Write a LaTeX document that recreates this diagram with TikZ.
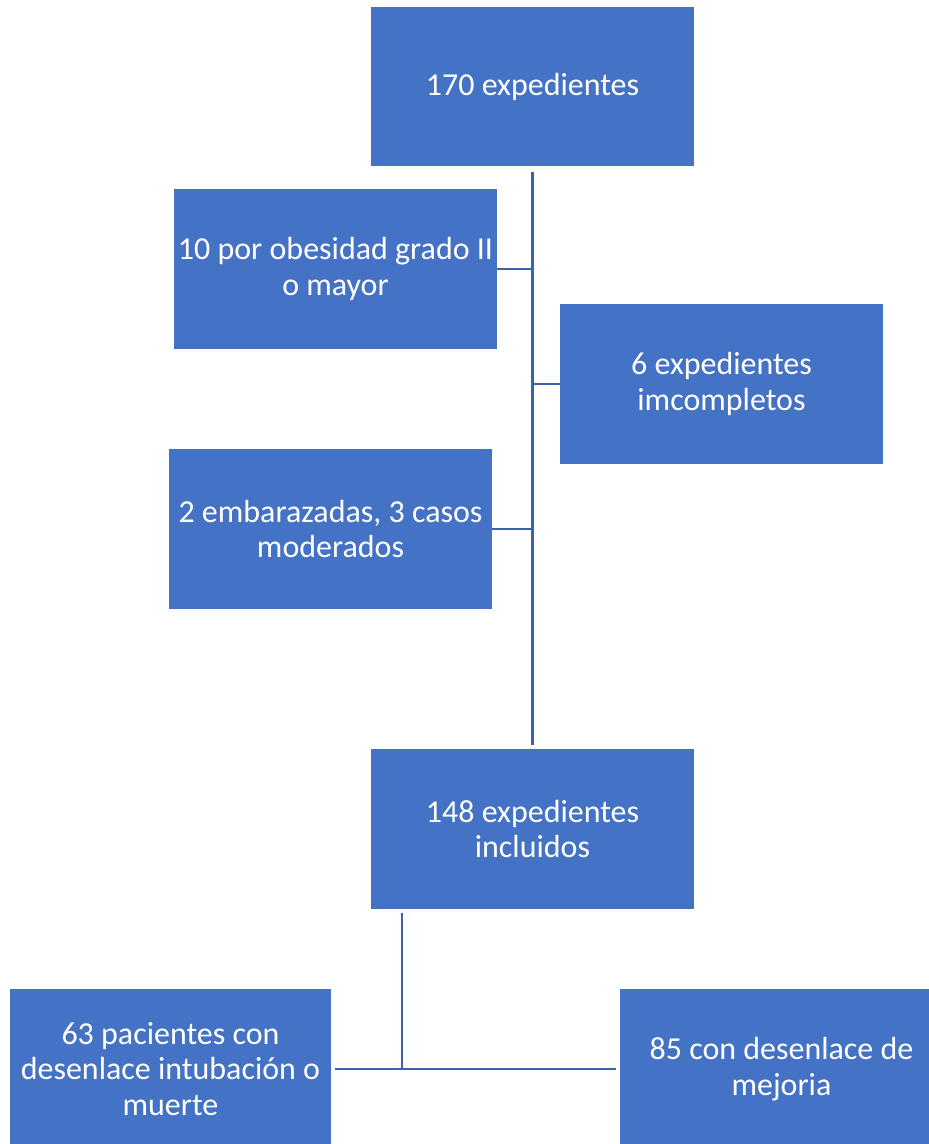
\documentclass[tikz,border=0pt]{standalone}
\usepackage{fontspec}
\setmainfont{Carlito}
\usepackage{xcolor}
\usepackage{tikz}
\usetikzlibrary{positioning,calc}

\definecolor{boxblue}{HTML}{4472C4}
\definecolor{lineblue}{HTML}{3B62AD}

\begin{document}
\begin{tikzpicture}[
    x=0.02cm, y=-0.02cm,
    block/.style={
        fill=boxblue,
        text=white,
        align=center,
        inner sep=0pt,
        minimum width=6.46cm,
        minimum height=3.2cm,
        font=\fontsize{18.2}{20.2}\selectfont
    },
    line/.style={draw=lineblue, line width=1.6pt}
]
\useasboundingbox (0,0) rectangle (929,1144);

% ---- Boxes ----
\node[block] (total) at (532.5,86.5) {170 expedientes};
\node[block] (obes) at (335.5,269) {10 por obesidad grado II\\o mayor};
\node[block] (incomp) at (721.5,384) {6 expedientes\\imcompletos};
\node[block] (emb) at (330.5,529) {2 embarazadas, 3 casos\\moderados};
\node[block] (incl) at (532.5,829) {148 expedientes\\incluidos};
\node[block, minimum width=6.42cm] (muerte) at (170.5,1069) {63 pacientes con\\desenlace intubación o\\muerte};
\node[block] (mejoria) at (781.5,1069) {85 con desenlace de\\mejoria};

\coordinate (split) at (402,1069);

% ---- Connections ----
\draw[line, shorten <=3pt, shorten >=2pt] (total) -- (incl);
\draw[line] (obes.east) -- (obes.east -| total.south);
\draw[line] (incomp.west) -- (incomp.west -| total.south);
\draw[line] (emb.east) -- (emb.east -| total.south);

\draw[line, shorten <=2pt] (split |- incl.south) -- (split);
\draw[line, shorten <=2pt, shorten >=2pt] (muerte.east) -- (mejoria.west);

\end{tikzpicture}
\end{document}
